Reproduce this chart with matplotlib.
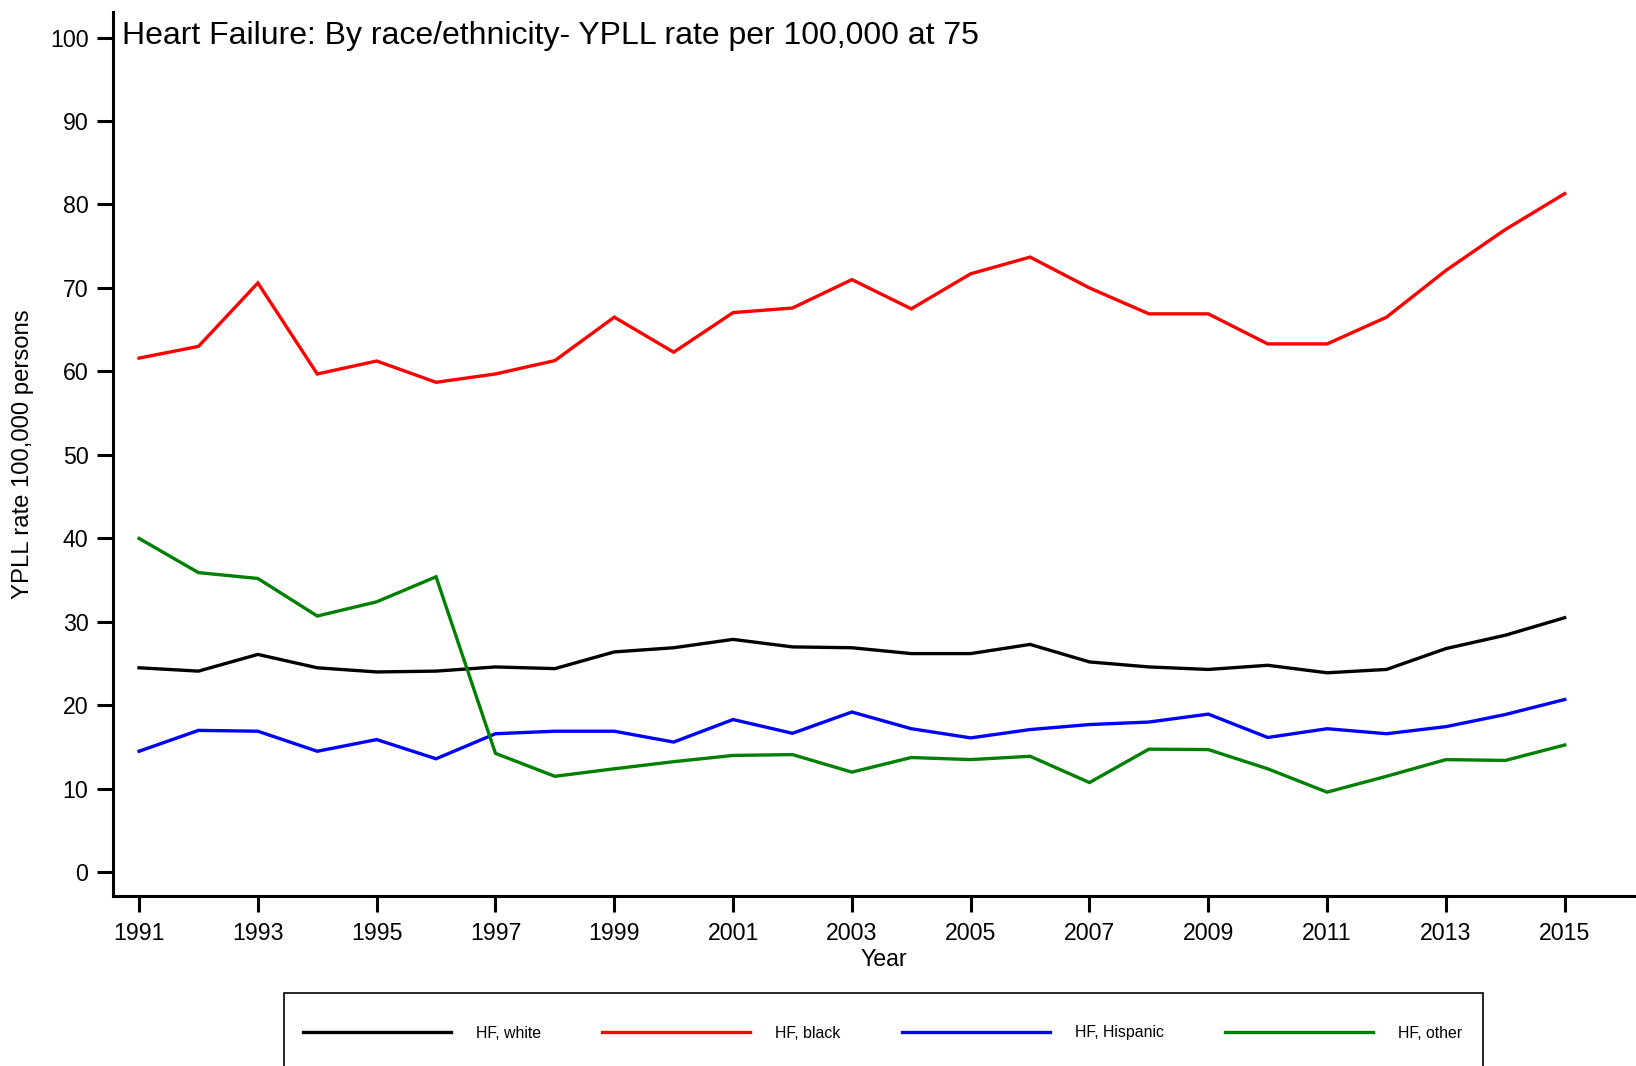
import matplotlib
matplotlib.use("Agg")
import matplotlib.pyplot as plt
from matplotlib.patches import Rectangle

plt.rcParams['font.family'] = ['Liberation Sans', 'DejaVu Sans']

years = list(range(1991, 2016))

hf_white = [24.5, 24.1, 26.1, 24.5, 24.0, 24.1, 24.6, 24.4, 26.4, 26.9,
            27.9, 27.0, 26.9, 26.2, 26.2, 27.3, 25.2, 24.6, 24.3, 24.8,
            23.9, 24.3, 26.8, 28.4, 30.5]
hf_black = [61.6, 63.0, 70.6, 59.7, 61.25, 58.7, 59.7, 61.3, 66.5, 62.3,
            67.05, 67.6, 71.0, 67.5, 71.7, 73.7, 70.0, 66.9, 66.9, 63.3,
            63.3, 66.5, 72.1, 77.0, 81.3]
hf_hispanic = [14.5, 17.0, 16.9, 14.5, 15.9, 13.6, 16.6, 16.9, 16.9, 15.6,
               18.3, 16.65, 19.2, 17.2, 16.1, 17.1, 17.7, 18.0, 18.95, 16.15,
               17.2, 16.6, 17.45, 18.9, 20.7]
hf_other = [40.0, 35.9, 35.2, 30.7, 32.4, 35.4, 14.25, 11.5, 12.4, 13.25,
            14.0, 14.1, 12.0, 13.75, 13.5, 13.9, 10.75, 14.75, 14.7, 12.4,
            9.6, 11.5, 13.5, 13.4, 15.25]

series = [
    ("HF, white", hf_white, "black"),
    ("HF, black", hf_black, "#ff0000"),
    ("HF, Hispanic", hf_hispanic, "#0000ff"),
    ("HF, other", hf_other, "#008000"),
]

x_ticks = list(range(1991, 2016, 2))
y_ticks = list(range(0, 101, 10))

W, H = 1636, 1066
fig = plt.figure(figsize=(W / 100, H / 100), dpi=100)
ax = fig.add_axes([113.5 / W, 1 - 896 / H, 1 - 113.5 / W, (896 - 12.5) / H])

handles = []
for label, vals, color in series:
    ln, = ax.plot(years, vals, color=color, lw=2.4, label=label,
                  solid_joinstyle='miter')
    handles.append(ln)

ax.set_xlim(1990.57, 2016.2)
ax.set_ylim(-2.84, 103.0)
ax.set_xticks(x_ticks)
ax.set_yticks(y_ticks)
ax.tick_params(axis='both', length=11.5, width=2.2, labelsize=16.7, color='black')
ax.tick_params(axis='x', pad=7)
ax.tick_params(axis='y', pad=6.5)
for side in ('top', 'right'):
    ax.spines[side].set_visible(False)
for side in ('left', 'bottom'):
    ax.spines[side].set_linewidth(2.2)

fig.text(122 / W, 1 - 36 / H,
         "Heart Failure: By race/ethnicity- YPLL rate per 100,000 at 75",
         fontsize=23, ha='left', va='center')
fig.text(23 / W, 1 - 454 / H, "YPLL rate 100,000 persons", rotation=90,
         fontsize=17.2, ha='center', va='center')
fig.text(884 / W, 1 - 959 / H, "Year", fontsize=16.7, ha='center', va='center')

# legend box running off the bottom edge
fig.add_artist(Rectangle((284 / W, -0.05), (1483 - 284) / W, 0.05 + 1 - 993 / H,
                         transform=fig.transFigure, fill=False,
                         edgecolor='black', lw=1.2))
fig.legend(handles=handles, loc='center left',
           bbox_to_anchor=(302.6 / W, 1 - 1033 / H), ncol=4, frameon=False,
           fontsize=11.4, handlelength=9.35, handletextpad=1.6,
           columnspacing=3.85, borderpad=0, borderaxespad=0)

fig.savefig("out.png", dpi=100)
